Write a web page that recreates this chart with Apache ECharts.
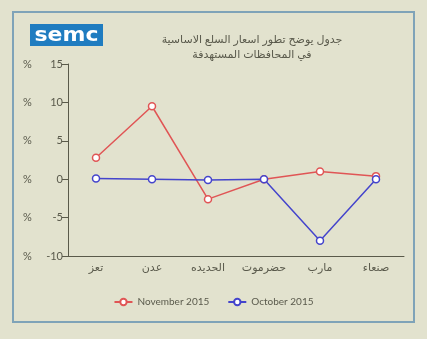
<!DOCTYPE html>
<html>
<head>
<meta charset="utf-8">
<script src="https://cdn.jsdelivr.net/npm/echarts@6/dist/echarts.min.js"></script>
<style>
  html, body { margin: 0; padding: 0; background: #e4e4d2; }
  #chart { width: 427px; height: 339px; }
</style>
</head>
<body>
<div id="chart"></div>
<script>
// Governorates (categories)
const governorates = ['تعز', 'عدن', 'الحديده', 'حضرموت', 'مارب', 'صنعاء'];
// Monthly change in basic commodity prices (%)
const november2015 = [2.8, 9.5, -2.6, 0.0, 1.0, 0.4];
const october2015 = [0.1, 0.0, -0.1, 0.0, -8.0, 0.0];
const seriesNames = ['November 2015', 'October 2015'];
const titleLines = ['جدول يوضح تطور اسعار السلع الاساسية', 'في المحافظات المستهدفة'];

const chart = echarts.init(document.getElementById('chart'), null, { renderer: 'canvas' });
const axisColor = '#5a5a4a';
const textColor = '#5a5a4c';
const font = 'Lato, "Noto Sans", sans-serif';

chart.setOption({
  backgroundColor: '#e2e2ce',
  animation: false,
  textStyle: { fontFamily: font },
  graphic: [
    { type: 'rect', shape: { x: 13, y: 12, width: 401, height: 310 },
      style: { fill: 'none', stroke: '#7fa3b8', lineWidth: 2 }, silent: true },
    { type: 'rect', shape: { x: 30, y: 24, width: 73, height: 22 },
      style: { fill: '#1f7cc0' }, silent: true },
    { type: 'text', x: 66.5, y: 35.5, scaleX: 1.1,
      style: { text: 'semc', fill: '#ffffff', font: 'bold 20px "DejaVu Sans", sans-serif',
               align: 'center', verticalAlign: 'middle' }, silent: true },
    { type: 'text', x: 252, y: 40,
      style: { text: titleLines[0], fill: textColor, font: '11px "Noto Sans", "DejaVu Sans", sans-serif',
               align: 'center', verticalAlign: 'middle' }, silent: true },
    { type: 'text', x: 252, y: 55,
      style: { text: titleLines[1], fill: textColor, font: '11px "Noto Sans", "DejaVu Sans", sans-serif',
               align: 'center', verticalAlign: 'middle' }, silent: true }
  ],
  grid: { left: 68, right: 23, top: 64, bottom: 83, containLabel: false },
  legend: {
    bottom: 27,
    left: 'center',
    itemGap: 18,
    itemWidth: 18,
    itemHeight: 8,
    textStyle: { color: textColor, fontSize: 10, fontFamily: font },
    data: seriesNames
  },
  xAxis: {
    type: 'category',
    data: governorates,
    boundaryGap: true,
    axisLine: { onZero: false, lineStyle: { color: axisColor, width: 1 } },
    axisTick: { alignWithLabel: true, length: 6, lineStyle: { color: axisColor } },
    axisLabel: { interval: 0, color: textColor, fontSize: 11, margin: 6,
                 fontFamily: '"Noto Sans", "DejaVu Sans", sans-serif' },
    splitLine: { show: false }
  },
  yAxis: {
    type: 'value',
    min: -10, max: 15, interval: 5,
    axisLine: { show: true, lineStyle: { color: axisColor, width: 1 } },
    axisTick: { show: true, length: 6, lineStyle: { color: axisColor } },
    splitLine: { show: false },
    axisLabel: {
      color: textColor,
      fontSize: 11,
      margin: 5,
      formatter: v => '{p|%}{v|' + v + '}',
      rich: {
        p: { width: 22, align: 'left', fontSize: 11, lineHeight: 14, color: textColor },
        v: { width: 18, align: 'right', fontSize: 11, lineHeight: 14, color: textColor }
      }
    }
  },
  series: [
    {
      name: seriesNames[0], type: 'line', data: november2015,
      symbol: 'circle', symbolSize: 7,
      itemStyle: { color: '#ffffff', borderColor: '#e05555', borderWidth: 1.5 },
      lineStyle: { color: '#e05555', width: 1.5 },
      z: 2
    },
    {
      name: seriesNames[1], type: 'line', data: october2015,
      symbol: 'circle', symbolSize: 7,
      itemStyle: { color: '#ffffff', borderColor: '#4444cc', borderWidth: 1.5 },
      lineStyle: { color: '#4444cc', width: 1.5 },
      z: 3
    }
  ]
});
</script>
</body>
</html>
